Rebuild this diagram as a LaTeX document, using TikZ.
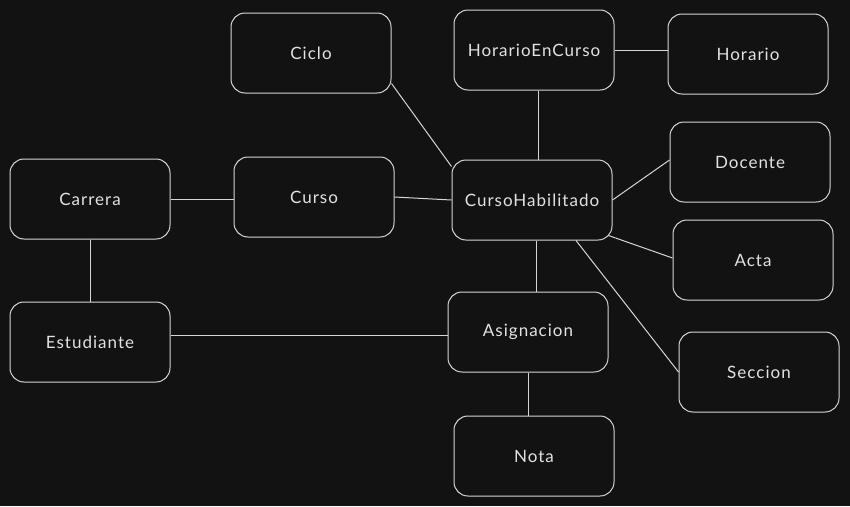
\documentclass[tikz,border=0pt]{standalone}
\usepackage{fontspec}
\setmainfont{Lato}[LetterSpace=6]
\begin{document}
\begin{tikzpicture}[x=1pt,y=-1pt,
  ent/.style={draw=linecol, line width=1pt, rounded corners=14pt, minimum width=160pt, minimum height=80pt,
    text=txtcol, font=\fontsize{17}{19}\selectfont, inner sep=0pt},
  link/.style={draw=linecol, line width=1pt}]
\definecolor{bg}{HTML}{121212}
\definecolor{linecol}{HTML}{D6D6D6}
\definecolor{txtcol}{HTML}{E2E2E2}
\fill[bg] (0,0) rectangle (850,506);
\useasboundingbox (0,0) rectangle (850,506);

\node[ent] (ciclo) at (311,53) {Ciclo};
\node[ent] (hec) at (534,50) {HorarioEnCurso};
\node[ent] (horario) at (748,54) {Horario};
\node[ent] (carrera) at (90,199) {Carrera};
\node[ent] (curso) at (314,197) {Curso};
\node[ent] (ch) at (532,200) {CursoHabilitado};
\node[ent] (docente) at (750,162) {Docente};
\node[ent] (acta) at (753,260) {Acta};
\node[ent] (estudiante) at (90,342) {Estudiante};
\node[ent] (asig) at (528,332) {Asignacion};
\node[ent] (seccion) at (759,372) {Seccion};
\node[ent] (nota) at (534,456) {Nota};

\coordinate (estR) at ([yshift=7pt]estudiante.east);

\draw[link] ([yshift=10pt]ciclo.south east) -- ([yshift=-7pt]ch.north west);
\draw[link] (hec.east) -- (horario.west|-hec.east);
\draw[link] ([xshift=4pt]hec.south) -- ([xshift=4pt]hec.south|-ch.north);
\draw[link] (carrera.east) -- (curso.west|-carrera.east);
\draw[link] (curso.east) -- (ch.west);
\draw[link] (ch.east) -- ([yshift=2pt]docente.west);
\draw[link] ([xshift=-4pt,yshift=5pt]ch.south east) -- ([yshift=2pt]acta.west);
\draw[link] ([xshift=44pt]ch.south) -- (seccion.west);
\draw[link] ([xshift=4pt]ch.south) -- ([xshift=4pt]ch.south|-asig.north);
\draw[link] (carrera.south) -- (carrera.south|-estudiante.north);
\draw[link] (estR) -- (asig.west|-estR);
\draw[link] (asig.south) -- (asig.south|-nota.north);
\end{tikzpicture}
\end{document}
